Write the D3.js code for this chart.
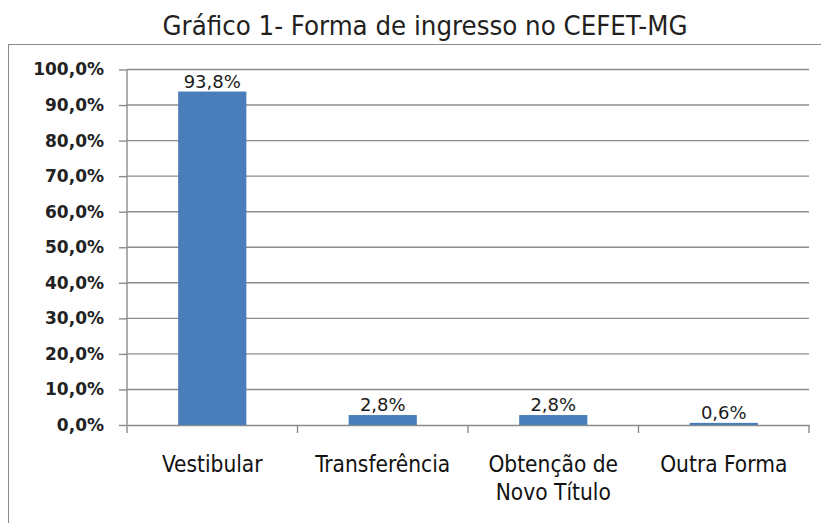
<!DOCTYPE html>
<html>
<head>
<meta charset="utf-8">
<script src="https://cdn.jsdelivr.net/npm/d3@7"></script>
<style>
  body { margin: 0; background: #fff; }
  svg { display: block; }
</style>
</head>
<body>
<div id="chart"></div>
<script>
/**
 * DATA
 * */
const title = "Gráfico 1- Forma de ingresso no CEFET-MG";
const categories = ["Vestibular", "Transferência", "Obtenção de|Novo Título", "Outra Forma"];
const values = [93.8, 2.8, 2.8, 0.6];
const yTicks = [0, 10, 20, 30, 40, 50, 60, 70, 80, 90, 100];

/**
 * CONSTANTS
 * */
const width = 821,
  height = 523,
  margin = { top: 69.5, bottom: 98, left: 127, right: 12 };

const fmt = v => d3.format(".1f")(v).replace(".", ",") + "%";

const svg = d3.select("#chart")
  .append("svg")
  .attr("width", width)
  .attr("height", height);

// outer frame (cut off at right and bottom)
svg.append("rect")
  .attr("x", 8.5)
  .attr("y", 44.5)
  .attr("width", 840)
  .attr("height", 520)
  .attr("fill", "none")
  .attr("stroke", "#8a8a8a")
  .attr("stroke-width", 1);

// title
svg.append("text")
  .attr("x", 425)
  .attr("y", 35)
  .attr("text-anchor", "middle")
  .attr("textLength", 525)
  .attr("lengthAdjust", "spacingAndGlyphs")
  .style("font-family", "'DejaVu Sans Condensed', 'DejaVu Sans'")
  .style("font-stretch", "condensed")
  .style("font-size", "27px")
  .style("fill", "#231f20")
  .text(title);

// scales
const x = d3.scaleBand()
  .domain(categories)
  .range([margin.left, width - margin.right])
  .paddingInner(0)
  .paddingOuter(0);

const y = d3.scaleLinear()
  .domain([0, 100])
  .range([height - margin.bottom, margin.top]);

// gridlines
svg.append("g")
  .selectAll("line")
  .data(yTicks.filter(d => d > 0))
  .join("line")
  .attr("x1", margin.left)
  .attr("x2", width - margin.right)
  .attr("y1", d => y(d))
  .attr("y2", d => y(d))
  .attr("stroke", "#8c8c8c")
  .attr("stroke-width", 1.4);

// y axis
const yAxis = svg.append("g")
  .attr("transform", `translate(${margin.left},0)`)
  .call(d3.axisLeft(y).tickValues(yTicks).tickFormat(fmt).tickSize(8).tickPadding(15));

yAxis.select(".domain")
  .attr("d", `M0,${y(100)}V${y(0) + 8}`)
  .attr("stroke", "#8c8c8c")
  .attr("stroke-width", 1.4);
yAxis.selectAll(".tick line").attr("stroke", "#8c8c8c").attr("stroke-width", 1.4);
yAxis.selectAll(".tick text")
  .style("font-family", "'DejaVu Sans'")
  .style("font-weight", "bold")
  .style("font-size", "17px")
  .style("fill", "#222");

// x axis
const xAxis = svg.append("g")
  .attr("transform", `translate(0,${y(0)})`)
  .call(d3.axisBottom(x).tickSize(0).tickFormat(""));

xAxis.select(".domain")
  .attr("stroke", "#8c8c8c")
  .attr("stroke-width", 1.4);

// category boundary ticks
svg.append("g")
  .selectAll("line")
  .data(categories)
  .join("line")
  .attr("x1", d => x(d) + x.bandwidth())
  .attr("x2", d => x(d) + x.bandwidth())
  .attr("y1", y(0))
  .attr("y2", y(0) + 8)
  .attr("stroke", "#8c8c8c")
  .attr("stroke-width", 1.4);

// category labels
const catLabel = svg.append("g")
  .selectAll("text")
  .data(categories)
  .join("text")
  .attr("x", d => x(d) + x.bandwidth() / 2)
  .attr("y", y(0) + 47)
  .attr("text-anchor", "middle")
  .style("font-family", "'DejaVu Sans Condensed', 'DejaVu Sans'")
  .style("font-stretch", "condensed")
  .style("font-size", "22.5px")
  .style("fill", "#111");

catLabel.selectAll("tspan")
  .data(d => d.split("|").map(t => ({ t, cx: x(d) + x.bandwidth() / 2 })))
  .join("tspan")
  .attr("x", d => d.cx)
  .attr("dy", (d, i) => i === 0 ? 0 : 28)
  .text(d => d.t);

// bars
const barW = x.bandwidth() * 0.4;
svg.append("g")
  .selectAll("rect")
  .data(values)
  .join("rect")
  .attr("x", (d, i) => x(categories[i]) + (x.bandwidth() - barW) / 2)
  .attr("y", d => y(d))
  .attr("width", barW)
  .attr("height", d => y(0) - y(d))
  .attr("fill", "#4a7ebb");

// value labels
svg.append("g")
  .selectAll("text")
  .data(values)
  .join("text")
  .attr("x", (d, i) => x(categories[i]) + x.bandwidth() / 2)
  .attr("y", d => y(d) - 4)
  .attr("text-anchor", "middle")
  .style("font-family", "'DejaVu Sans'")
  .style("font-size", "18px")
  .style("fill", "#1a1a1a")
  .text(d => fmt(d));
</script>
</body>
</html>
